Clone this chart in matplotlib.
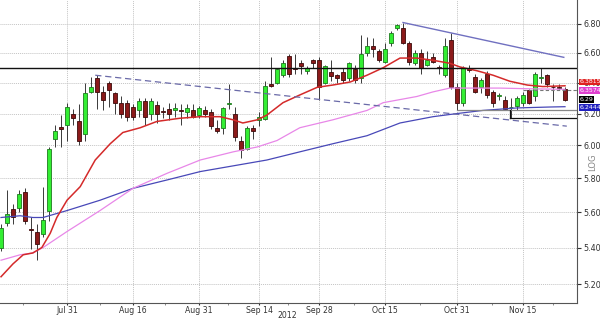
import matplotlib
matplotlib.use("Agg")
import matplotlib.pyplot as plt
import matplotlib.transforms as mtransforms
from matplotlib.ticker import FixedLocator, NullLocator

# ---------------- data ----------------
opens  = [5.40,5.54,5.62,5.625,5.72,5.505,5.49,5.475,5.61,6.04,
          6.114,6.13,6.20,6.15,6.07,6.34,6.43,6.34,6.40,6.33,
          6.27,6.27,6.24,6.22,6.28,6.20,6.255,6.215,6.23,6.22,
          6.222,6.21,6.22,6.19,6.22,6.21,6.11,6.11,6.26,6.20,
          6.03,5.98,6.11,6.16,6.165,6.39,6.40,6.45,6.58,6.50,
          6.53,6.48,6.55,6.55,6.40,6.47,6.45,6.47,6.43,6.49,
          6.43,6.60,6.65,6.61,6.54,6.67,6.77,6.77,6.67,6.53,
          6.60,6.52,6.57,6.505,6.45,6.69,6.37,6.27,6.49,6.44,
          6.37,6.46,6.34,6.31,6.29,6.24,6.25,6.27,6.35,6.31,
          6.43,6.45,6.375,6.37,6.36]
highs  = [5.53,5.73,5.65,5.73,5.74,5.57,5.53,5.75,5.99,6.13,
          6.19,6.27,6.23,6.26,6.40,6.44,6.45,6.38,6.41,6.34,
          6.31,6.29,6.26,6.30,6.30,6.30,6.28,6.24,6.27,6.27,
          6.26,6.26,6.26,6.25,6.25,6.23,6.16,6.245,6.39,6.24,
          6.06,6.12,6.13,6.21,6.41,6.57,6.50,6.55,6.59,6.59,
          6.55,6.51,6.56,6.57,6.52,6.55,6.46,6.50,6.54,6.52,
          6.72,6.71,6.70,6.63,6.67,6.75,6.80,6.81,6.68,6.62,
          6.63,6.61,6.60,6.52,6.70,6.74,6.40,6.51,6.52,6.46,
          6.43,6.48,6.35,6.33,6.31,6.30,6.31,6.34,6.36,6.47,
          6.50,6.46,6.39,6.39,6.37]
lows   = [5.38,5.52,5.53,5.60,5.53,5.39,5.33,5.46,5.55,5.99,
          5.99,6.03,6.13,6.00,6.03,6.33,6.23,6.22,6.24,6.20,
          6.17,6.15,6.16,6.18,6.13,6.16,6.14,6.17,6.16,6.18,
          6.13,6.17,6.17,6.17,6.18,6.10,6.08,6.07,6.23,6.03,
          5.92,5.97,6.04,6.12,6.16,6.375,6.39,6.44,6.44,6.46,
          6.46,6.46,6.50,6.29,6.39,6.41,6.40,6.40,6.41,6.40,
          6.40,6.58,6.57,6.54,6.53,6.65,6.76,6.66,6.52,6.52,
          6.46,6.51,6.53,6.46,6.44,6.36,6.22,6.25,6.47,6.33,
          6.33,6.30,6.24,6.29,6.22,6.17,6.22,6.25,6.26,6.28,
          6.40,6.37,6.28,6.35,6.28]
closes = [5.51,5.59,5.57,5.705,5.55,5.50,5.42,5.555,5.98,6.09,
          6.10,6.24,6.17,6.03,6.33,6.37,6.34,6.29,6.35,6.27,
          6.20,6.18,6.18,6.28,6.18,6.28,6.20,6.21,6.20,6.235,
          6.218,6.235,6.18,6.235,6.20,6.12,6.09,6.235,6.27,6.05,
          5.97,6.11,6.09,6.18,6.38,6.38,6.49,6.53,6.46,6.49,
          6.51,6.50,6.53,6.37,6.51,6.445,6.43,6.42,6.53,6.42,
          6.59,6.65,6.63,6.55,6.63,6.74,6.79,6.67,6.54,6.60,
          6.50,6.55,6.54,6.50,6.65,6.37,6.27,6.50,6.485,6.34,
          6.42,6.32,6.27,6.32,6.23,6.245,6.30,6.32,6.27,6.46,
          6.44,6.39,6.37,6.365,6.29]

# moving-average lines (bar index, value)
ma_red_x  = [0,2,3.7,5.3,6.8,8.2,9.3,11,13.2,15.7,18.2,20.3,23.2,26,29.8,33.2,36.5,38.7,
             40.3,42.7,44.3,47,49.8,52.7,55.3,58.2,61,63.7,66.5,69.3,72,74.8,76.5,79.3,
             82,84.8,87.7,90.3,94]
ma_red_y  = [5.24,5.31,5.36,5.37,5.40,5.48,5.57,5.67,5.75,5.91,6.01,6.08,6.11,6.15,6.17,6.18,6.18,6.16,
             6.14,6.16,6.19,6.27,6.32,6.37,6.385,6.405,6.45,6.50,6.565,6.565,6.55,6.53,6.505,6.48,
             6.45,6.41,6.385,6.375,6.38]
ma_pink_x = [0,3.2,5.3,7,11,16.5,22,27.7,33.2,38.7,42.7,46,49.8,55.3,61,63.7,66.5,69.3,72,
             74.8,77.7,83,88.5,94]
ma_pink_y = [5.33,5.36,5.37,5.40,5.49,5.61,5.74,5.83,5.91,5.96,5.99,6.03,6.11,6.16,6.22,6.27,6.29,6.31,6.34,
             6.365,6.365,6.365,6.36,6.357]
ma_blue_x = [0,3.2,5.3,7,11,16.5,22,27.7,33.2,44.3,49.8,55.3,61,66.5,72,76,80.3,86,91.5,94]
ma_blue_y = [5.57,5.58,5.57,5.57,5.61,5.67,5.74,5.79,5.84,5.91,5.96,6.01,6.06,6.14,6.18,6.20,6.22,6.236,6.242,6.244]

# trend lines (bar index, value)
trend_dash_x = [15.7, 94.3]
trend_dash_y = [6.45, 6.12]
trend_solid_x = [67, 93.8]
trend_solid_y = [6.81, 6.57]
resistance = 6.50
box_top = 6.223
box_bottom = 6.172
last_dash = 6.355

ytick_vals = [5.20,5.40,5.60,5.80,6.00,6.20,6.40,6.60,6.80]
xtick_pos = [11,22,33,43,53,64,76,87]
xtick_labels = ["Jul 31","Aug 16","Aug 31","Sep 14","Sep 28","Oct 15","Oct 31","Nov 15"]
xminor_pos = [3.7,16.5,27.3,37.8,47.8,58.8,69.8,81.8,92]

tags = [("6.3815", 6.405, "#e02020"),
        ("6.3574", 6.350, "#e040d0"),
        ("6.29", 6.29, "#000000"),
        ("6.2444", 6.238, "#2020c0")]

# ---------------- figure ----------------
fig = plt.figure(figsize=(6, 3.2), dpi=100)
ax = fig.add_axes([0, 17/320, 577/600, 303/320])
ax.set_yscale("log")
ax.set_ylim(5.10, 6.97)
ax.set_xlim(-0.17, 96.0)

# grid
for v in ytick_vals:
    ax.axhline(v, color="#c4c4c4", lw=0.7, ls=(0, (1, 1)), zorder=0)
for p in xtick_pos:
    ax.axvline(p, color="#c4c4c4", lw=0.7, ls=(0, (1, 1)), zorder=0)

# candles
n = len(opens)
xs = list(range(n))
ax.vlines(xs, lows, highs, color="#3a3a3a", lw=0.7, zorder=2)
for i in range(n):
    o, c = opens[i], closes[i]
    up = c >= o
    fc = "#33ee33" if up else "#8b1a1a"
    ec = "#1e7a1e" if up else "#3c0a0a"
    lo, hi = min(o, c), max(o, c)
    if hi - lo < 0.004:
        hi = lo + 0.004
    ax.bar(i, hi - lo, bottom=lo, width=0.8, color=fc, edgecolor=ec, lw=0.6, zorder=3)

# moving averages
ax.plot(ma_blue_x, ma_blue_y, color="#4848b8", lw=0.9, zorder=4)
ax.plot(ma_pink_x, ma_pink_y, color="#e887e8", lw=0.9, zorder=4)
ax.plot(ma_red_x, ma_red_y, color="#d42a2a", lw=1.1, zorder=4)

# trend lines
ax.plot(trend_dash_x, trend_dash_y, color="#6a6aa8", lw=0.9, ls=(0, (5, 3)), zorder=4)
ax.plot(trend_solid_x, trend_solid_y, color="#7070c0", lw=1.0, zorder=4)
ax.axhline(resistance, color="#111111", lw=1.0, zorder=4)
ax.plot([76, 96], [box_top, box_top], color="#888888", lw=0.9, zorder=4)
ax.plot([84.8, 96], [box_bottom, box_bottom], color="#111111", lw=0.9, zorder=4)
ax.plot([84.8, 84.8], [box_bottom, box_top], color="#111111", lw=0.9, zorder=4)
ax.plot([87, 96], [last_dash, last_dash], color="#777777", lw=0.8, ls=(0, (3, 2)), zorder=4)

# axes styling
for s in ("left", "top"):
    ax.spines[s].set_visible(False)
for s in ("right", "bottom"):
    ax.spines[s].set_color("#555555")
    ax.spines[s].set_linewidth(0.8)

ax.yaxis.tick_right()
ax.yaxis.set_major_locator(FixedLocator(ytick_vals))
ax.yaxis.set_minor_locator(NullLocator())
ax.set_yticklabels([f"{v:.2f}" for v in ytick_vals])
ax.tick_params(axis="y", which="major", length=3, direction="out", labelsize=5.8,
               colors="#333333", pad=1.5)
ax.set_xticks(xtick_pos)
ax.set_xticklabels(xtick_labels)
ax.set_xticks(xminor_pos, minor=True)
ax.tick_params(axis="x", which="major", length=1.5, direction="out", labelsize=5.6,
               colors="#333333", pad=0.6)
ax.tick_params(axis="x", which="minor", length=1.5, direction="out", colors="#777777")

fig.text(287/600, 4.5/320, "2012", fontsize=5.6, color="#333333", ha="center", va="center")
fig.text(593/600, (320 - 162)/320, "LOG", fontsize=6, color="#888888", rotation=90,
         ha="center", va="center")

# price tags on the right
trans = mtransforms.blended_transform_factory(ax.transAxes, ax.transData)
for txt, val, col in tags:
    ax.text(1.004, val, txt, transform=trans, fontsize=4.5, color="white",
            ha="left", va="center", clip_on=False, zorder=6,
            bbox=dict(boxstyle="square,pad=0.12", fc=col, ec="none"))

fig.savefig("out.png", dpi=100)
